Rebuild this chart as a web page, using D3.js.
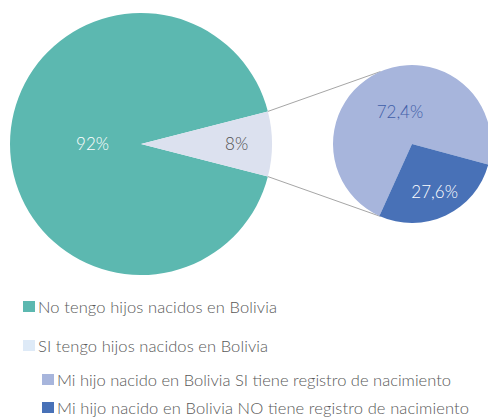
<!DOCTYPE html>
<html>
<head>
<meta charset="utf-8">
<script src="https://cdn.jsdelivr.net/npm/d3@7"></script>
<style>
  html, body { margin: 0; padding: 0; background: #fff; }
  svg { display: block; font-family: Lato, 'Open Sans', sans-serif; }
</style>
</head>
<body>
<div id="chart"></div>
<script>
// main pie
const mainLabels = ['No tengo hijos nacidos en Bolivia', 'SI tengo hijos nacidos en Bolivia'];
const mainValues = [92, 8];
const mainText = ['92%', '8%'];

// secondary pie (breakdown of the 8%)
const subLabels = [
  'Mi hijo nacido en Bolivia SI tiene registro de nacimiento',
  'Mi hijo nacido en Bolivia NO tiene registro de nacimiento',
];
const subValues = [72.4, 27.6];
const subText = ['72,4%', '27,6%'];

const width = 488;
const height = 420;

const mainColors = ['#5cb8b0', '#dce1ef'];
const subColors = ['#a7b5dc', '#4871b7'];
const legendColors = ['#5cb8b0', '#deeaf7', '#a7b5dc', '#4871b7'];

const big = { x: 141, y: 144, r: 131 };
const small = { x: 412, y: 144, r: 79 };
const toRad = (deg) => (deg * Math.PI) / 180;

const svg = d3
  .select('#chart')
  .append('svg')
  .attr('width', width)
  .attr('height', height);

// the 8% slice points to the right, centered on the horizontal
const total = d3.sum(mainValues);
const half = (mainValues[1] / total) * Math.PI;
const mainPie = d3
  .pie()
  .sort(null)
  .startAngle(Math.PI / 2 + half)
  .endAngle(Math.PI / 2 + half + 2 * Math.PI);

const mainArcs = mainPie(mainValues);
const mainArc = d3.arc().innerRadius(0).outerRadius(big.r);

const gBig = svg.append('g').attr('transform', `translate(${big.x},${big.y})`);

gBig
  .selectAll('path')
  .data(mainArcs)
  .enter()
  .append('path')
  .attr('d', mainArc)
  .attr('fill', (d, i) => mainColors[i]);

const mainLabelPos = [0.37, 0.73];
gBig
  .selectAll('text')
  .data(mainArcs)
  .enter()
  .append('text')
  .attr('transform', (d, i) => {
    const a = (d.startAngle + d.endAngle) / 2;
    const rr = big.r * mainLabelPos[i];
    return `translate(${Math.sin(a) * rr},${-Math.cos(a) * rr})`;
  })
  .attr('text-anchor', 'middle')
  .attr('dy', '0.36em')
  .style('font-size', '17px')
  .style('font-weight', 300)
  .style('fill', (d, i) => (i === 0 ? '#ffffff' : '#505050'))
  .text((d, i) => mainText[i]);

// secondary pie
const subPie = d3
  .pie()
  .sort(null)
  .startAngle(toRad(-155.6))
  .endAngle(toRad(204.4));

const subArcs = subPie(subValues);
const subArc = d3.arc().innerRadius(0).outerRadius(small.r);

// connector lines from the 8% slice corners to the small pie
// slice.startAngle is the top corner (~75deg), endAngle the bottom one (~104deg)
const slice = mainArcs[1];
const lineEnds = [toRad(-23.5), toRad(203.5)];
const connectors = [
  {
    x1: big.x + Math.sin(slice.startAngle) * big.r,
    y1: big.y - Math.cos(slice.startAngle) * big.r,
    x2: small.x + Math.sin(lineEnds[0]) * small.r,
    y2: small.y - Math.cos(lineEnds[0]) * small.r,
  },
  {
    x1: big.x + Math.sin(slice.endAngle) * big.r,
    y1: big.y - Math.cos(slice.endAngle) * big.r,
    x2: small.x + Math.sin(lineEnds[1]) * small.r,
    y2: small.y - Math.cos(lineEnds[1]) * small.r,
  },
];

svg
  .selectAll('line.connector')
  .data(connectors)
  .enter()
  .append('line')
  .attr('class', 'connector')
  .attr('x1', (d) => d.x1)
  .attr('y1', (d) => d.y1)
  .attr('x2', (d) => d.x2)
  .attr('y2', (d) => d.y2)
  .attr('stroke', '#a6a6a6')
  .attr('stroke-width', 1);

const gSmall = svg.append('g').attr('transform', `translate(${small.x},${small.y})`);

gSmall
  .selectAll('path')
  .data(subArcs)
  .enter()
  .append('path')
  .attr('d', subArc)
  .attr('fill', (d, i) => subColors[i]);

const subLabelPos = [0.44, 0.67];
const subLabelShift = [5, 0];
gSmall
  .selectAll('text')
  .data(subArcs)
  .enter()
  .append('text')
  .attr('transform', (d, i) => {
    const a = (d.startAngle + d.endAngle) / 2 + toRad(subLabelShift[i]);
    const rr = small.r * subLabelPos[i];
    return `translate(${Math.sin(a) * rr},${-Math.cos(a) * rr})`;
  })
  .attr('text-anchor', 'middle')
  .attr('dy', '0.36em')
  .style('font-size', '17px')
  .style('font-weight', 300)
  .style('fill', (d, i) => (i === 0 ? '#3f5ea8' : '#ffffff'))
  .text((d, i) => subText[i]);

// legend (text stretched a little to the width of the original font)
const legendItems = [
  { label: mainLabels[0], x: 23, y: 307, w: 239 },
  { label: mainLabels[1], x: 23, y: 346, w: 230 },
  { label: subLabels[0], x: 42, y: 380, w: 394 },
  { label: subLabels[1], x: 42, y: 408, w: 412 },
];

const legend = svg
  .selectAll('g.legend')
  .data(legendItems)
  .enter()
  .append('g')
  .attr('class', 'legend')
  .attr('transform', (d) => `translate(${d.x},${d.y})`);

legend
  .append('rect')
  .attr('x', 0)
  .attr('y', -6)
  .attr('width', 12)
  .attr('height', 11)
  .attr('fill', (d, i) => legendColors[i]);

legend
  .append('text')
  .attr('x', 15)
  .attr('y', 0)
  .attr('dy', '0.36em')
  .attr('textLength', (d) => d.w)
  .attr('lengthAdjust', 'spacing')
  .style('font-size', '16.5px')
  .style('font-weight', 300)
  .style('fill', '#595959')
  .text((d) => d.label);
</script>
</body>
</html>
